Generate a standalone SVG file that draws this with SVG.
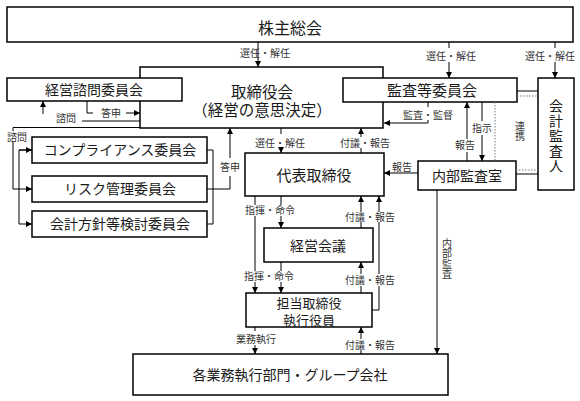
<svg xmlns="http://www.w3.org/2000/svg" width="580" height="401" viewBox="0 0 580 401">
<style>
.box{fill:#fff;stroke:#000;stroke-width:1.5}
.nt{font-family:"Noto Sans CJK JP","Noto Sans CJK SC",sans-serif;fill:#1a1a1a;text-anchor:middle}
.lb{font-family:"Noto Sans CJK JP","Noto Sans CJK SC",sans-serif;font-size:10px;fill:#333;text-anchor:middle}
.vt{writing-mode:vertical-rl;text-orientation:upright}
.ln{fill:none;stroke:#000;stroke-width:1}
.dt{fill:none;stroke:#777;stroke-width:1;stroke-dasharray:1.5 1.5}
</style>
<defs>
<marker id="ah" viewBox="0 0 8 8" refX="8" refY="4" markerWidth="6" markerHeight="6" markerUnits="userSpaceOnUse" orient="auto"><path d="M0,0 L8,4 L0,8 z" fill="#000"/></marker>
</defs>

<g id="shareholders">
<rect class="box" x="7" y="7" width="566" height="35"/>
<text class="nt" x="290" y="33.5" font-size="16">株主総会</text>
</g>

<g id="board">
<rect class="box" x="140" y="67" width="243" height="61"/>
<text class="nt" font-size="15.5"><tspan x="262" y="98">取締役会</tspan><tspan x="262" y="116">（経営の意思決定）</tspan></text>
</g>

<g id="advisory">
<rect class="box" x="7" y="78" width="175" height="23"/>
<text class="nt" x="94" y="95" font-size="14">経営諮問委員会</text>
</g>

<g id="audit-committee">
<rect class="box" x="343" y="78" width="174" height="24"/>
<text class="nt" x="432" y="95.5" font-size="15">監査等委員会</text>
</g>

<g id="accounting-auditor">
<rect class="box" x="538" y="78" width="36" height="112"/>
<text class="nt vt" x="556" y="136" font-size="14" letter-spacing="1">会計監査人</text>
</g>

<g id="internal-audit">
<rect class="box" x="418" y="161" width="98" height="29"/>
<text class="nt" x="467" y="181" font-size="14">内部監査室</text>
</g>

<g id="representative">
<rect class="box" x="245" y="153" width="139" height="43"/>
<text class="nt" x="314" y="180.5" font-size="15">代表取締役</text>
</g>

<g id="compliance">
<rect class="box" x="32" y="137" width="175" height="26"/>
<text class="nt" x="120" y="155.3" font-size="14">コンプライアンス委員会</text>
</g>

<g id="risk">
<rect class="box" x="32" y="176" width="175" height="26"/>
<text class="nt" x="120" y="194.3" font-size="14">リスク管理委員会</text>
</g>

<g id="accounting-policy">
<rect class="box" x="32" y="211" width="175" height="26"/>
<text class="nt" x="120" y="229.3" font-size="14">会計方針等検討委員会</text>
</g>

<g id="management-meeting">
<rect class="box" x="264" y="228" width="109" height="34"/>
<text class="nt" x="318" y="251" font-size="14">経営会議</text>
</g>

<g id="directors">
<rect class="box" x="246" y="293" width="126" height="34"/>
<text class="nt" font-size="13"><tspan x="309" y="308">担当取締役</tspan><tspan x="309" y="325">執行役員</tspan></text>
</g>

<g id="divisions">
<rect class="box" x="133" y="354" width="315" height="41"/>
<text class="nt" x="290" y="380" font-size="14">各業務執行部門・グループ会社</text>
</g>

<g id="connectors">
<path class="ln" d="M258,42 V67" marker-end="url(#ah)"/>
<text class="lb" x="265" y="57" text-anchor="start">選任・解任</text>
<path class="ln" d="M449,42 V48"/>
<path class="ln" d="M449,62 V78" marker-end="url(#ah)"/>
<text class="lb" x="451" y="60">選任・解任</text>
<path class="ln" d="M555,42 V48"/>
<path class="ln" d="M555,62 V78" marker-end="url(#ah)"/>
<text class="lb" x="550" y="60">選任・解任</text>

<path class="ln" d="M140,121 H82"/>
<path class="ln" d="M43,114 V101" marker-end="url(#ah)"/>
<text class="lb" x="66" y="122">諮問</text>
<path class="ln" d="M87,101 V113 H93"/>
<path class="ln" d="M126,113 H140" marker-end="url(#ah)"/>
<text class="lb" x="111" y="116.5">答申</text>

<path class="ln" d="M140,127.5 H13 V131"/>
<text class="lb" x="17" y="140.5">諮問</text>
<path class="ln" d="M13,142 V189 H32" marker-end="url(#ah)"/>
<path class="ln" d="M32,150 H19 V224 H32" marker-end="url(#ah)"/>
<path class="ln" d="M19,150 H32" marker-end="url(#ah)"/>
<path class="ln" d="M207,150 H213 V224 H207"/>
<path class="ln" d="M207,189 H230 V176"/>
<path class="ln" d="M230,158 V128" marker-end="url(#ah)"/>
<text class="lb" x="230" y="171">答申</text>

<path class="ln" d="M281,128 V134"/>
<path class="ln" d="M281,148 V153" marker-end="url(#ah)"/>
<text class="lb" x="280" y="146.5">選任・解任</text>
<path class="ln" d="M361,153 V148"/>
<path class="ln" d="M361,137 V128" marker-end="url(#ah)"/>
<text class="lb" x="365" y="146.5">付議・報告</text>

<path class="ln" d="M428,102 V107"/>
<path class="ln" d="M428,120 V123 H384" marker-end="url(#ah)"/>
<text class="lb" x="428" y="118.5">監査・監督</text>

<path class="ln" d="M467,161 V152"/>
<path class="ln" d="M467,139 V102" marker-end="url(#ah)"/>
<text class="lb" x="465" y="148.5">報告</text>
<path class="ln" d="M482,102 V121"/>
<path class="ln" d="M482,135 V161" marker-end="url(#ah)"/>
<text class="lb" x="482" y="131.5">指示</text>

<path class="ln" d="M517,91 H538"/>
<path class="dt" d="M517,96 H538"/>
<path class="dt" d="M495,102 V161"/>
<path class="dt" d="M516,170 H538"/>
<path class="ln" d="M516,174 H538"/>
<text class="lb vt" x="520" y="131">連携</text>

<path class="ln" d="M418,173 H384" marker-end="url(#ah)"/>
<text class="lb" x="402" y="170.5">報告</text>

<path class="ln" d="M437,190 V354" marker-end="url(#ah)"/>
<text class="lb vt" x="447" y="259" letter-spacing="0.5">内部監査</text>

<path class="ln" d="M255,196 V205"/>
<path class="ln" d="M255,216 V271"/>
<path class="ln" d="M255,282 V293" marker-end="url(#ah)"/>
<path class="ln" d="M281,196 V205"/>
<path class="ln" d="M281,216 V228" marker-end="url(#ah)"/>
<text class="lb" x="270" y="214">指揮・命令</text>
<path class="ln" d="M281,262 V271"/>
<path class="ln" d="M281,282 V293" marker-end="url(#ah)"/>
<text class="lb" x="269" y="280">指揮・命令</text>

<path class="ln" d="M361,228 V222"/>
<path class="ln" d="M361,212 V196" marker-end="url(#ah)"/>
<path class="ln" d="M372,310 H379 V286"/>
<path class="ln" d="M379,274 V222"/>
<path class="ln" d="M379,212 V196" marker-end="url(#ah)"/>
<text class="lb" x="370" y="221">付議・報告</text>
<path class="ln" d="M361,293 V286"/>
<path class="ln" d="M361,274 V262" marker-end="url(#ah)"/>
<text class="lb" x="370" y="284">付議・報告</text>

<path class="ln" d="M255,327 V331"/>
<path class="ln" d="M255,345 V354" marker-end="url(#ah)"/>
<text class="lb" x="256" y="342.5">業務執行</text>
<path class="ln" d="M361,354 V350"/>
<path class="ln" d="M361,339 V327" marker-end="url(#ah)"/>
<text class="lb" x="370" y="348.5">付議・報告</text>
</g>
</svg>
